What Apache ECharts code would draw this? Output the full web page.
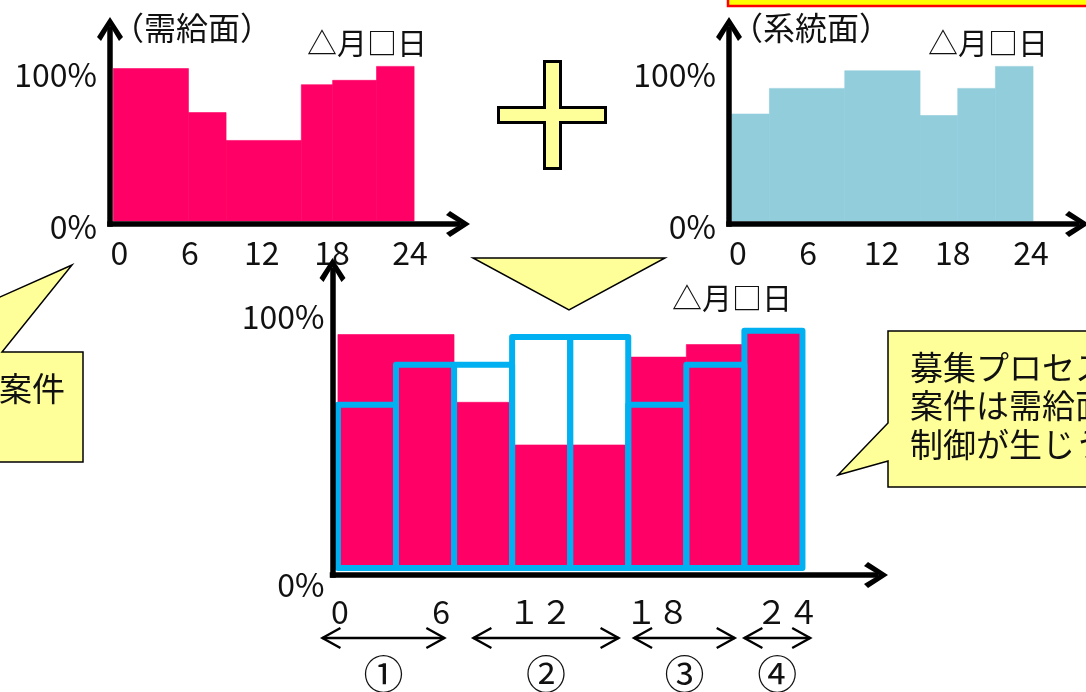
<!DOCTYPE html>
<html>
<head>
<meta charset="utf-8">
<script src="https://cdn.jsdelivr.net/npm/echarts@6/dist/echarts.min.js"></script>
<style>
  html, body { margin: 0; padding: 0; background: #ffffff; }
  #chart { width: 1086px; height: 692px; }
</style>
</head>
<body>
<div id="chart"></div>
<script>
// ---- data ---------------------------------------------------------------
const hourTicks = [0, 6, 12, 18, 24];
const hourLabelsTop = ['0', '6', '12', '18', '24'];
const hourLabelsBottom = ['0', '6', '１２', '１８', '２４'];
const pctTicks = [0, 100];
const pctLabels = ['0%', '100%'];

// 需給面 (hour from, hour to, %)
const demandFrom = [0, 6, 9, 15, 17.5, 21];
const demandTo   = [6, 9, 15, 17.5, 21, 24];
const demandPct  = [104, 74, 55, 93, 96, 105.5];

// 系統面
const networkFrom = [0, 3, 9, 15, 18, 21];
const networkTo   = [3, 9, 15, 18, 21, 24];
const networkPct  = [73, 90.5, 102.5, 72, 90.5, 105.5];

// combined view
const mixDemandFrom = [0, 6, 9, 15, 18, 21];
const mixDemandTo   = [6, 9, 15, 18, 21, 24];
const mixDemandPct  = [93, 66, 49, 84, 89, 94];
const slotFrom = [0, 3, 6, 9, 12, 15, 18, 21];
const slotTo   = [3, 6, 9, 12, 15, 18, 21, 24];
const mixNetworkPct = [65, 81, 81, 92, 92, 65, 81, 94.5];

// periods under the combined view
const periodFrom  = [-0.8, 7, 15.3, 21];
const periodTo    = [5.5, 14.5, 20.5, 24.4];
const periodMarks = ['①', '②', '③', '④'];

// ---- styling ------------------------------------------------------------
const FONT = "'Noto Sans CJK JP', 'Noto Sans', sans-serif";
const PINK = '#FF0066';
const LIGHT_BLUE = '#92CDDC';
const BLUE = '#00B0F0';
const PALE_YELLOW = '#FFFF99';
const CHEVRON = 'path://M13,0 L26,20 L22,24 L13,9 L4,24 L0,20 Z';
const TICK_SIZE = 32;

// horizontal nudges (px) for the hour labels of each panel
const hourNudge = [
  [6, 1.5, -2, -7, -4],
  [6, 1, -1, -5, -2],
  [2, -13, -30, -29, -15]
];
// vertical nudge (px) for the 0% label of each panel
const zeroNudge = [6, 6, 17];

function axisLine(width) {
  return {
    show: true, onZero: false,
    symbol: ['none', CHEVRON], symbolSize: [26, 24],
    lineStyle: { color: '#000', width: width, cap: 'square' }
  };
}

function hourAxis(idx, min, max, labels, margin) {
  const rich = {};
  hourTicks.forEach((t, i) => {
    const o = hourNudge[idx][i];
    rich['h' + i] = { padding: [0, o < 0 ? -2 * o : 0, 0, o > 0 ? 2 * o : 0],
                      fontSize: TICK_SIZE, fontFamily: FONT, color: '#111' };
  });
  return {
    type: 'value', gridIndex: idx, min: min, max: max, z: 5,
    axisLine: axisLine(5.5),
    axisTick: { show: false }, splitLine: { show: false },
    axisLabel: {
      customValues: hourTicks, margin: margin,
      fontSize: TICK_SIZE, fontFamily: FONT, color: '#111',
      formatter: v => {
        const i = hourTicks.indexOf(v);
        return i < 0 ? '' : '{h' + i + '|' + labels[i] + '}';
      },
      rich: rich
    }
  };
}

function pctAxis(idx, min, max, margin) {
  return {
    type: 'value', gridIndex: idx, min: min, max: max, z: 5,
    axisLine: axisLine(5.5),
    axisTick: { show: false }, splitLine: { show: false },
    axisLabel: {
      customValues: pctTicks, margin: margin,
      fontSize: TICK_SIZE, fontFamily: FONT, color: '#111',
      formatter: v => v === 0 ? '{z|' + pctLabels[0] + '}' : '{p|' + pctLabels[1] + '}',
      rich: {
        z: { padding: [2 * zeroNudge[idx], 0, 0, 0], fontSize: TICK_SIZE, fontFamily: FONT, color: '#111' },
        p: { fontSize: TICK_SIZE, fontFamily: FONT, color: '#111' }
      }
    }
  };
}

function spanSeries(axisIdx, from, to, pct, style, z) {
  return {
    type: 'custom', xAxisIndex: axisIdx, yAxisIndex: axisIdx, z: z, clip: false,
    data: from.map((f, i) => [f, to[i], pct[i]]),
    encode: { x: [0, 1], y: 2 },
    renderItem: (params, api) => {
      const a = api.coord([api.value(0), api.value(2)]);
      const b = api.coord([api.value(1), 0]);
      return {
        type: 'rect',
        shape: { x: a[0], y: a[1], width: b[0] - a[0], height: b[1] - a[1] },
        style: style
      };
    }
  };
}

const chart = echarts.init(document.getElementById('chart'), null, { renderer: 'canvas' });

chart.setOption({
  backgroundColor: '#ffffff',
  animation: false,
  grid: [
    { left: 110, top: 29, width: 348, height: 195 },
    { left: 729, top: 29, width: 348, height: 195 },
    { left: 332.5, top: 270, width: 543.5, height: 305 }
  ],
  xAxis: [
    hourAxis(0, -0.26, 27.5, hourLabelsTop, 13),
    hourAxis(1, -0.22, 27.5, hourLabelsTop, 13),
    hourAxis(2, -0.28, 27.8, hourLabelsBottom, 21)
  ],
  yAxis: [
    pctAxis(0, -2, 131, 13),
    pctAxis(1, -2, 131, 13),
    pctAxis(2, -2.8, 118.7, 8)
  ],
  series: [
    spanSeries(0, demandFrom, demandTo, demandPct,
      { fill: PINK, stroke: PINK, lineWidth: 0.6 }, 2),
    spanSeries(1, networkFrom, networkTo, networkPct,
      { fill: LIGHT_BLUE, stroke: LIGHT_BLUE, lineWidth: 0.6 }, 2),
    spanSeries(2, mixDemandFrom, mixDemandTo, mixDemandPct,
      { fill: PINK, stroke: PINK, lineWidth: 0.6 }, 2),
    spanSeries(2, slotFrom, slotTo, mixNetworkPct,
      { fill: 'none', stroke: BLUE, lineWidth: 6, lineJoin: 'round' }, 3)
  ]
});

// ---- annotations --------------------------------------------------------
function label(text, x, y, size, align) {
  return {
    type: 'text', x: x, y: y, z: 10,
    style: { text: text, font: size + 'px ' + FONT, fill: '#111',
             textAlign: align || 'left', align: align || 'left',
             textVerticalAlign: 'middle', verticalAlign: 'middle' }
  };
}
function shape(points, fill, stroke, width) {
  return {
    type: 'polygon', z: 8, shape: { points: points },
    style: { fill: fill, stroke: stroke, lineWidth: width, lineJoin: 'miter' }
  };
}

const gfx = [];
// banner edge at the top right
gfx.push({ type: 'rect', z: 8, shape: { x: 728, y: -20, width: 400, height: 26 },
           style: { fill: '#FFFF00', stroke: '#FF0000', lineWidth: 2.5 } });
// plus sign
gfx.push(shape([[544.5, 61.5], [560.5, 61.5], [560.5, 107.5], [605.5, 107.5], [605.5, 122.5],
                [560.5, 122.5], [560.5, 168.5], [544.5, 168.5], [544.5, 122.5], [498.5, 122.5],
                [498.5, 107.5], [544.5, 107.5]], PALE_YELLOW, '#000', 3));
// downward triangle
gfx.push(shape([[473, 258], [665, 258], [569, 310]], PALE_YELLOW, '#000', 1.5));
// callouts
gfx.push(shape([[-200, 352], [-124, 352], [72, 265], [2, 352], [83, 352], [83, 462], [-200, 462]],
               PALE_YELLOW, '#000', 1.5));
gfx.push(shape([[888, 331], [1200, 331], [1200, 487], [888, 487], [888, 461], [838, 475], [888, 423]],
               PALE_YELLOW, '#000', 1.5));
gfx.push(label('案件', -1, 388, 33));
gfx.push(label('募集プロセス', 910, 367, 33));
gfx.push(label('案件は需給面', 910, 405, 33));
gfx.push(label('制御が生じう', 910, 444, 33));
// panel titles and dates
gfx.push(label('（需給面）', 112, 28, 32));
gfx.push(label('（系統面）', 731, 28, 32));
gfx.push(label('△月□日', 367, 43, 30, 'center'));
gfx.push(label('△月□日', 988, 43, 30, 'center'));
gfx.push(label('△月□日', 732, 298, 30, 'center'));

// period arrows
const ay = 638;
periodFrom.forEach((f, i) => {
  const x1 = chart.convertToPixel({ xAxisIndex: 2 }, f);
  const x2 = chart.convertToPixel({ xAxisIndex: 2 }, periodTo[i]);
  const ls = { stroke: '#000', lineWidth: 2.4, fill: 'none' };
  gfx.push({ type: 'line', z: 8, shape: { x1: x1, y1: ay, x2: x2, y2: ay }, style: ls });
  gfx.push({ type: 'polyline', z: 8, shape: { points: [[x1 + 18, ay - 10], [x1, ay], [x1 + 18, ay + 10]] }, style: ls });
  gfx.push({ type: 'polyline', z: 8, shape: { points: [[x2 - 18, ay - 10], [x2, ay], [x2 - 18, ay + 10]] }, style: ls });
  gfx.push(label(periodMarks[i], (x1 + x2) / 2, 674, 40, 'center'));
});

chart.setOption({ graphic: gfx });
</script>
</body>
</html>
